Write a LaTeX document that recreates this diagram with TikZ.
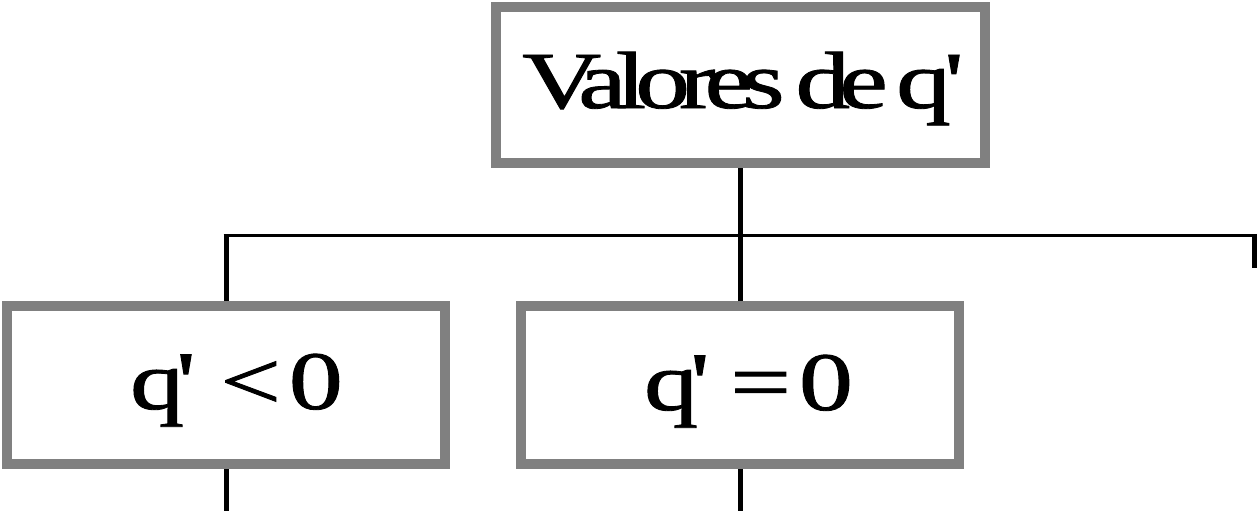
\documentclass[tikz,border=0pt]{standalone}
\usepackage{fontspec}
\usepackage{graphicx}
\newfontfamily\tf{Liberation Serif}[Ligatures=TeXOff,FakeBold=1]
\begin{document}
\begin{tikzpicture}[x=1pt,y=-1pt,
  box/.style={draw=boxgray,line width=10pt,rectangle,inner sep=0pt,fill=white},
  conn/.style={draw=black,line width=5pt},
  hconn/.style={draw=black,line width=3.4pt},
  lbl/.style={inner sep=0pt,anchor=base,font=\tf\fontsize{83}{90}\selectfont}]
\definecolor{boxgray}{HTML}{808080}
\useasboundingbox (0,0) rectangle (1257,511);
\node[box,minimum width=489pt,minimum height=156pt] (top) at (740,85) {};
\node[box,minimum width=438pt,minimum height=158pt] (left) at (226,385) {};
\node[box,minimum width=438pt,minimum height=158pt] (mid) at (740,385) {};
\node[lbl,font=\tf\fontsize{81}{90}\selectfont] (t1) at (743,108) {\scalebox{1.35}[1]{\addfontfeature{LetterSpace=-10}Valores\kern-4pt\ de\kern-6pt\ q\kern-5pt'}};
\node[lbl] (t2) at (236.5,409) {\scalebox{1.3}[1]{q\kern-6pt'\kern19pt<\kern6pt0}};
\node[lbl] (t3) at (748.5,410) {\scalebox{1.3}[1]{q\kern-6pt'\kern16pt=\kern6pt0}};
\coordinate (hl) at (226,235.6);
\coordinate (hr) at (1254,235.6);
\coordinate (rend) at (1254,268);
\coordinate (bot) at (0,511);
\draw[conn] (top.south) -- ([yshift=1.7pt]top.south |- hl);
\draw[conn] (hl |- left.north) -- ([yshift=1.7pt]hl);
\draw[hconn] ([xshift=-2.5pt]hl) -- ([xshift=2.5pt]hr);
\draw[conn] ([yshift=1.7pt]hr) -- (rend);
\draw[conn] (mid.north) -- (mid.north |- hl);
\draw[conn] (left.south) -- (left.south |- bot);
\draw[conn] (mid.south) -- (mid.south |- bot);
\end{tikzpicture}
\end{document}
